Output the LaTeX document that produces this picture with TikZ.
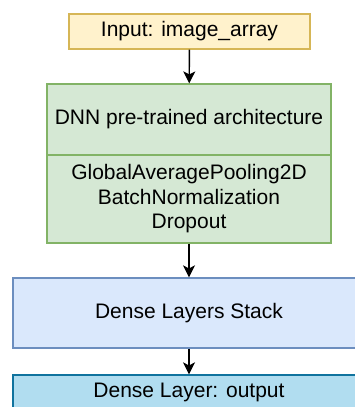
\documentclass[tikz,border=0pt]{standalone}
\usepackage{fontspec}
\setmainfont{Liberation Sans}
\usetikzlibrary{arrows.meta}

\definecolor{inFill}{HTML}{FFF2CC}
\definecolor{inDraw}{HTML}{D6B656}
\definecolor{dnnFill}{HTML}{D5E8D4}
\definecolor{dnnDraw}{HTML}{82B366}
\definecolor{denseFill}{HTML}{DAE8FC}
\definecolor{denseDraw}{HTML}{6C8EBF}
\definecolor{outFill}{HTML}{B1DDF0}
\definecolor{outDraw}{HTML}{10739E}

\begin{document}
\begin{tikzpicture}[x=1pt,y=1pt,yscale=-1,xscale=1,
  layer/.style={draw, line width=1.2pt, inner sep=0pt, align=center,
    font=\fontsize{21}{24.5}\selectfont},
  flow/.style={-{Stealth[length=12pt,width=12pt,inset=3pt]}, line width=1.4pt}]
%set diagram area to the reference size
\useasboundingbox (0,0) rectangle (355,407);

%Shape: Input
\node [layer, fill=inFill, draw=inDraw, minimum width=241pt, minimum height=35pt] (input) at (189.5,31.5) {Input: image\_array};
%Shape: DNN
\node [layer, fill=dnnFill, draw=dnnDraw, minimum width=284pt, minimum height=71pt] (dnn) at (189,119.5) {DNN pre-trained architecture};
%Shape: Pooling block
\node [layer, fill=dnnFill, draw=dnnDraw, minimum width=284pt, minimum height=88pt] (pool) at (189,199) {GlobalAveragePooling2D\\BatchNormalization\\Dropout};
%Shape: Dense stack
\node [layer, fill=denseFill, draw=denseDraw, minimum width=352pt, minimum height=70pt] (dense) at (189,313) {Dense Layers Stack};
%Shape: Output layer
\node [layer, fill=outFill, draw=outDraw, minimum width=352pt, minimum height=34pt] (output) at (189,392) {Dense Layer: output};

%Straight Lines
\draw [flow] (input) -- (dnn);
\draw [flow] (pool) -- (dense);
\draw [flow] (dense) -- (output);

\end{tikzpicture}
\end{document}
